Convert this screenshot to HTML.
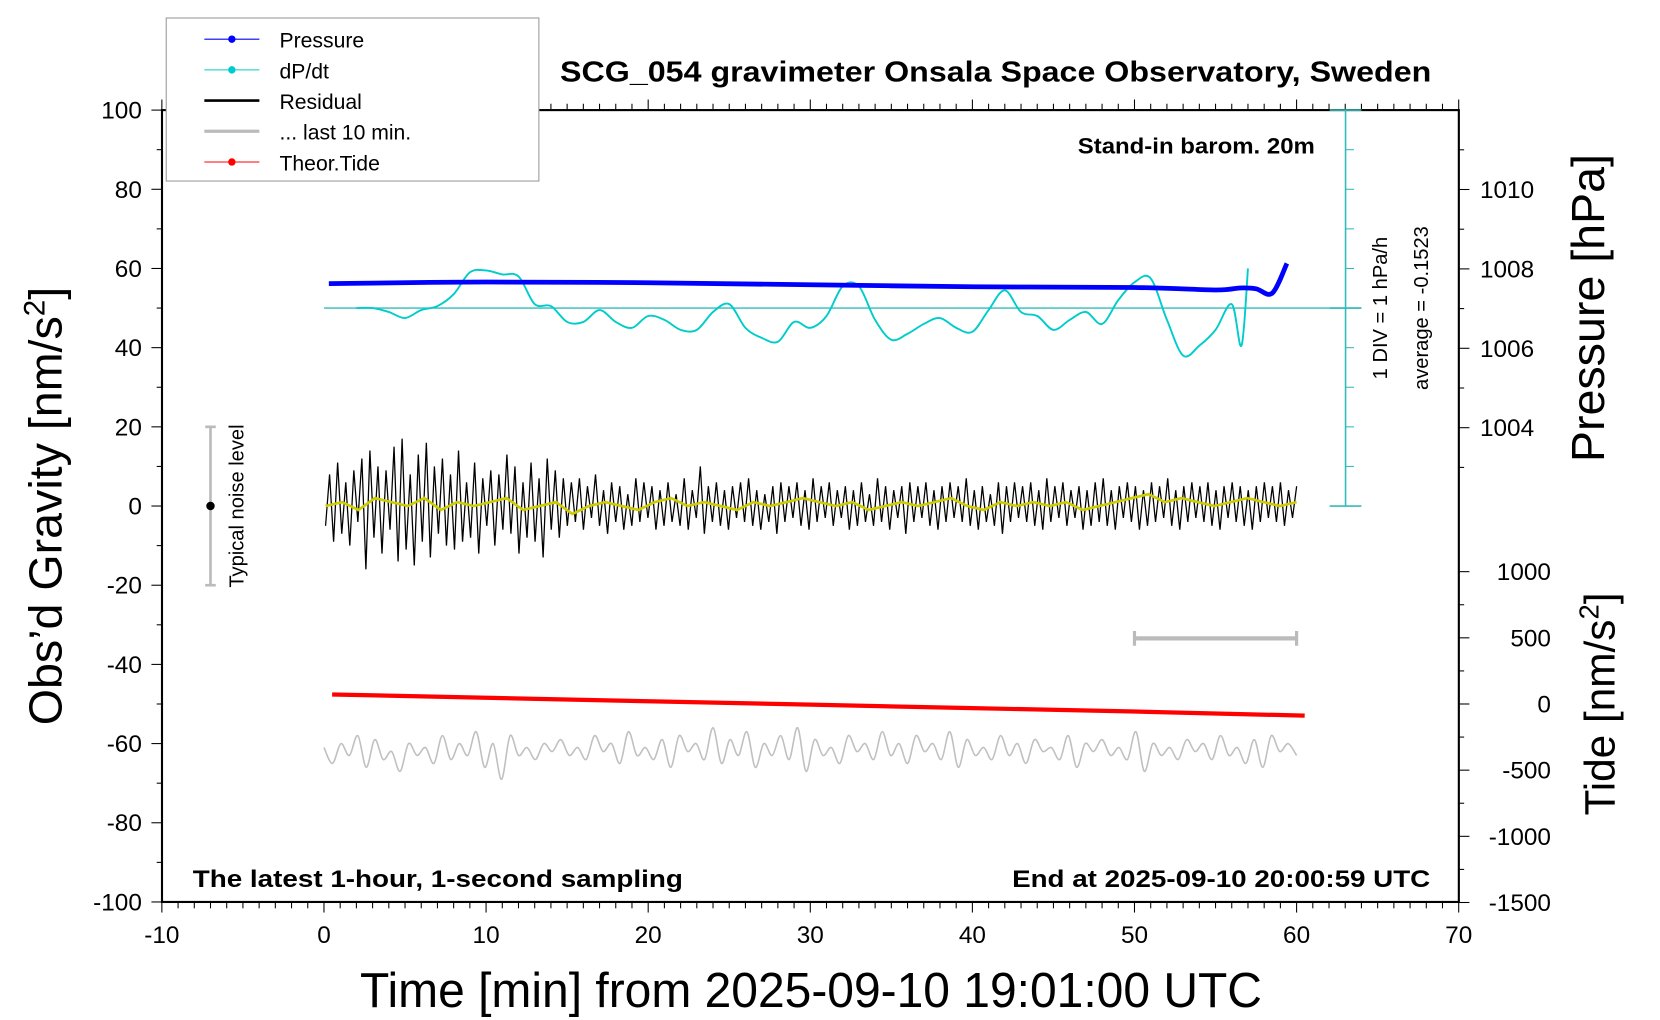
<!DOCTYPE html>
<html><head><meta charset="utf-8"><style>
html,body{margin:0;padding:0;background:#fff;}
svg{display:block;font-family:"Liberation Sans",sans-serif;}
</style></head><body>
<svg id="chart" width="1660" height="1020" viewBox="0 0 1568 963.5" xmlns="http://www.w3.org/2000/svg">
<g id="marks"></g>
<g id="axes"></g>
<text x="529" y="77" font-size="27" font-weight="bold" textLength="823" lengthAdjust="spacingAndGlyphs">SCG_054 gravimeter Onsala Space Observatory, Sweden</text>
<text x="1018" y="145" font-size="21" font-weight="bold" textLength="224" lengthAdjust="spacingAndGlyphs">Stand-in barom. 20m</text>
<text x="182" y="838" font-size="23" font-weight="bold" textLength="463" lengthAdjust="spacingAndGlyphs">The latest 1-hour, 1-second sampling</text>
<text x="1351" y="838" text-anchor="end" font-size="23" font-weight="bold" textLength="395" lengthAdjust="spacingAndGlyphs">End at 2025-09-10 20:00:59 UTC</text>
<text x="766" y="951" text-anchor="middle" font-size="46" textLength="852" lengthAdjust="spacingAndGlyphs">Time [min] from 2025-09-10 19:01:00 UTC</text>
<text transform="translate(58,478) rotate(-90)" text-anchor="middle" font-size="44">Obs’d Gravity [nm/s<tspan font-size="28" dy="-16">2</tspan><tspan dy="16">]</tspan></text>
<text transform="translate(1515,291) rotate(-90)" text-anchor="middle" font-size="44">Pressure [hPa]</text>
<text transform="translate(1525,665) rotate(-90)" text-anchor="middle" font-size="40">Tide [nm/s<tspan font-size="26" dy="-15">2</tspan><tspan dy="15">]</tspan></text>
<text transform="translate(1310,291) rotate(-90)" text-anchor="middle" font-size="19">1 DIV = 1 hPa/h</text>
<text transform="translate(1349,291) rotate(-90)" text-anchor="middle" font-size="19">average = -0.1523</text>
<text transform="translate(230,478) rotate(-90)" text-anchor="middle" font-size="19">Typical noise level</text>
<g>
<rect x="157" y="17" width="352" height="154" fill="#fff" stroke="#999" stroke-width="1"/>
<line x1="193" y1="37" x2="245" y2="37" stroke="#0000ff" stroke-width="1"/><circle cx="219" cy="37" r="3.5" fill="#0000ff"/>
<text x="264" y="45" font-size="20">Pressure</text>
<line x1="193" y1="66" x2="245" y2="66" stroke="#00cccc" stroke-width="1"/><circle cx="219" cy="66" r="3.5" fill="#00cccc"/>
<text x="264" y="74" font-size="20">dP/dt</text>
<line x1="193" y1="95" x2="245" y2="95" stroke="#000" stroke-width="2.5"/>
<text x="264" y="103" font-size="20">Residual</text>
<line x1="193" y1="124" x2="245" y2="124" stroke="#bbb" stroke-width="3"/>
<text x="264" y="132" font-size="20">... last 10 min.</text>
<line x1="193" y1="153" x2="245" y2="153" stroke="#ff0000" stroke-width="1"/><circle cx="219" cy="153" r="3.5" fill="#ff0000"/>
<text x="264" y="161" font-size="20">Theor.Tide</text>
</g>
</svg>
<script>
const residualVals=[-5,8,-9,11,-7,6,-10,9,-4,12,-16,14,-8,10,-12,9,-6,15,-14,17,-11,8,-15,13,-9,16,-13,10,-7,12,-10,8,-11,14,-9,6,-8,11,-12,7,-5,9,-10,8,-6,13,-7,10,-12,6,-8,11,-9,7,-13,12,-6,9,-8,7,
-5,6,-4,7,-6,5,-3,8,-5,4,-7,6,-4,5,-6,3,-5,7,-4,6,-3,5,-6,4,-5,6,-4,3,-5,7,-6,4,-3,10,-7,5,-4,6,-5,4,-6,5,-3,6,-4,7,-5,4,-6,3,-4,5,-7,6,-4,5,-3,6,-5,4,-6,7,-4,5,-3,6,-5,4,-3,5,-6,4,-5,6,-4,3,-5,7,-4,5,-6,4,-3,5,-7,6,-4,5,-3,6,-5,4,-6,5,-4,6,-3,5,-4,7,-5,4,-6,5,-4,3,-5,6,-7,5,-4,6,-3,5,-4,6,-5,4,-6,7,-4,5,-3,6,-5,4,-3,5,-6,4,-5,6,-4,7,-5,4,-6,5,-3,6,-4,5,-6,4,-5,6,-4,5,-3,7,-5,4,-6,5,-4,6,-3,5,-4,6,-5,4,-6,5,-3,6,-4,5,-5,4,-6,5,-4,6,-3,5,-4,6,-5,4,-3,5];
const smoothVals=[0,1,-1,2,1,0,2,-1,1,0,1,2,-1,0,1,-2,0,1,0,-1,1,2,0,1,0,-1,1,0,1,2,1,0,1,-1,0,1,0,1,2,0,-1,1,0,1,0,1,-1,0,1,2,3,1,2,1,0,1,2,1,0,1];
const last10Vals=[-61,-65,-60,-63,-58,-66,-59,-64,-62,-67,-60,-63,-61,-65,-58,-64,-60,-63,-57,-66,-60,-69,-58,-63,-61,-64,-60,-62,-59,-63,-61,-64,-58,-62,-60,-65,-57,-63,-61,-64,-59,-66,-58,-62,-60,-64,-56,-65,-59,-63,-57,-66,-60,-63,-58,-64,-56,-67,-59,-63,-61,-65,-58,-62,-60,-64,-57,-63,-60,-65,-58,-62,-60,-64,-57,-66,-59,-63,-61,-64,-58,-63,-60,-65,-59,-62,-61,-64,-58,-66,-60,-62,-59,-63,-61,-64,-57,-67,-60,-63,-61,-64,-59,-62,-60,-64,-58,-63,-61,-65,-59,-66,-58,-62,-60,-63];
const dpdtTime=[2,3,4,5,6,7,8,9,10,11,12,13,14,15,16,17,18,19,20,21,22,23,24,25,26,27,28,29,30,31,32,33,34,35,36,37,38,39,40,41,42,43,44,45,46,47,48,49,50,51,52,53,54,55,56,56.6,57];
const dpdtVals=[0,0,-0.1,-0.25,-0.05,0.05,0.35,0.9,0.95,0.85,0.8,0.1,0.05,-0.35,-0.35,-0.05,-0.35,-0.5,-0.2,-0.3,-0.55,-0.55,-0.1,0.1,-0.5,-0.75,-0.85,-0.35,-0.5,-0.2,0.55,0.55,-0.3,-0.8,-0.65,-0.4,-0.25,-0.5,-0.6,-0.05,0.45,-0.1,-0.2,-0.55,-0.3,-0.1,-0.4,0.2,0.65,0.75,-0.3,-1.2,-0.95,-0.55,0.1,-0.95,1.0];
const pressTime=[0.3,10,20,30,40,50,55,56.5,57.5,58.5,59.4];
const pressVals=[1007.63,1007.67,1007.65,1007.6,1007.55,1007.53,1007.47,1007.52,1007.5,1007.39,1008.14];
const tideTime=[0.5,10,20,30,40,50,60.5];
const tideVals=[72,47,21,-5,-31,-57,-88];
const xTicks=[-10,0,10,20,30,40,50,60,70];
const yTicks=[100,80,60,40,20,0,-20,-40,-60,-80,-100];
const pTicks=[1010,1008,1006,1004];
const tTicks=[1000,500,0,-500,-1000,-1500];

const NS='http://www.w3.org/2000/svg';
const X=t=>306+t*15.3125;
const Y=g=>478-g*3.74;
const P=p=>254-(p-1008)*37.5;
const T=v=>665-v*0.125;
const D=d=>291-d*37.4;
const marks=document.getElementById('marks'), axes=document.getElementById('axes');
function mk(tag,at,par){const e=document.createElementNS(NS,tag);for(const k in at)e.setAttribute(k,at[k]);(par||marks).appendChild(e);return e;}
function poly(xs,ys){return xs.map((x,i)=>x.toFixed(1)+','+ys[i].toFixed(1)).join(' ');}
function smooth(xs,ys){let d='M'+xs[0].toFixed(1)+','+ys[0].toFixed(1);
 for(let i=0;i<xs.length-1;i++){const x0=xs[Math.max(i-1,0)],y0=ys[Math.max(i-1,0)],x1=xs[i],y1=ys[i],x2=xs[i+1],y2=ys[i+1],x3=xs[Math.min(i+2,xs.length-1)],y3=ys[Math.min(i+2,xs.length-1)];
 d+=' C'+(x1+(x2-x0)/6).toFixed(1)+','+(y1+(y2-y0)/6).toFixed(1)+' '+(x2-(x3-x1)/6).toFixed(1)+','+(y2-(y3-y1)/6).toFixed(1)+' '+x2.toFixed(1)+','+y2.toFixed(1);}
 return d;}

let fr=mk('rect',{x:153,y:104,width:1225,height:748,fill:'none',stroke:'#000','stroke-width':2},axes);



for(let t=-10;t<=70;t++){const maj=t%10===0;
 mk('line',{x1:X(t),x2:X(t),y1:852,y2:852+(maj?10:6),stroke:'#000','stroke-width':1},axes);
 mk('line',{x1:X(t),x2:X(t),y1:104,y2:104-(maj?10:6),stroke:'#000','stroke-width':1},axes);}
xTicks.forEach(t=>{const e=mk('text',{x:X(t),y:891,'text-anchor':'middle','font-size':23},axes);e.textContent=t;

});
for(let g=-100;g<=100;g+=10){const maj=g%20===0;mk('line',{x1:153,x2:153-(maj?10:5),y1:Y(g),y2:Y(g),stroke:'#000'},axes);}
yTicks.forEach(g=>{const e=mk('text',{x:134,y:Y(g)+8,'text-anchor':'end','font-size':23},axes);e.textContent=g;

});
for(let p=1003;p<=1011;p++){const maj=p%2===0;const y=P(p);if(y<104||y>478)continue;mk('line',{x1:1378,x2:1378+(maj?10:5),y1:y,y2:y,stroke:'#000'},axes);}
pTicks.forEach(p=>{const e=mk('text',{x:1398,y:P(p)+8,'font-size':23},axes);e.textContent=p;

});
for(let v=-1500;v<=1000;v+=250){const maj=v%500===0;mk('line',{x1:1378,x2:1378+(maj?10:5),y1:T(v),y2:T(v),stroke:'#000'},axes);}
tTicks.forEach(v=>{const e=mk('text',{x:1465,y:T(v)+8,'text-anchor':'end','font-size':23},axes);e.textContent=v;

});

mk('line',{x1:1271,x2:1271,y1:104,y2:478,stroke:'#33bbbb','stroke-width':1.5},axes);
for(let d=-5;d<=5;d++){const y=D(d);const big=(d===5||d===-5||d===0);
 mk('line',{x1:big?1256:1271,x2:big?1286:1279,y1:y,y2:y,stroke:'#33bbbb','stroke-width':big?1.5:1},axes);}
let zl=mk('line',{x1:X(0),x2:1286,y1:D(0),y2:D(0),stroke:'#33bbbb','stroke-width':1.2});



let nb=mk('g',{});


mk('line',{x1:X(-7),x2:X(-7),y1:Y(20),y2:Y(-20),stroke:'#bbb','stroke-width':2.5},nb);
mk('line',{x1:X(-7)-5,x2:X(-7)+5,y1:Y(20),y2:Y(20),stroke:'#bbb','stroke-width':2.5},nb);
mk('line',{x1:X(-7)-5,x2:X(-7)+5,y1:Y(-20),y2:Y(-20),stroke:'#bbb','stroke-width':2.5},nb);
mk('circle',{cx:X(-7),cy:Y(0),r:4,fill:'#000'},nb);
let tb=mk('g',{});


mk('line',{x1:X(50),x2:X(60),y1:603,y2:603,stroke:'#bbb','stroke-width':4},tb);
mk('line',{x1:X(50),x2:X(50),y1:596,y2:610,stroke:'#bbb','stroke-width':3},tb);
mk('line',{x1:X(60),x2:X(60),y1:596,y2:610,stroke:'#bbb','stroke-width':3},tb);

let rx=residualVals.map((v,i)=>X(0.1+i*59.9/(residualVals.length-1)));
let r=mk('polyline',{points:poly(rx,residualVals.map(Y)),fill:'none',stroke:'#000','stroke-width':1.2});


let sx=smoothVals.map((v,i)=>X(0.1+i*59.9/(smoothVals.length-1)));
let s=mk('polyline',{points:poly(sx,smoothVals.map(Y)),fill:'none',stroke:'#cccc00','stroke-width':2.5});


let lx=last10Vals.map((v,i)=>X(i*60/(last10Vals.length-1)));
let l=mk('path',{d:smooth(lx,last10Vals.map(Y)),fill:'none',stroke:'#c0c0c0','stroke-width':1.5});


let dp=mk('path',{d:smooth(dpdtTime.map(X),dpdtVals.map(D)),fill:'none',stroke:'#00cccc','stroke-width':1.8});


let pr=mk('path',{d:smooth(pressTime.map(X),pressVals.map(P)),fill:'none',stroke:'#0000ff','stroke-width':4.5});


let td=mk('polyline',{points:poly(tideTime.map(X),tideVals.map(T)),fill:'none',stroke:'#ff0000','stroke-width':4});


</script>
</body></html>
